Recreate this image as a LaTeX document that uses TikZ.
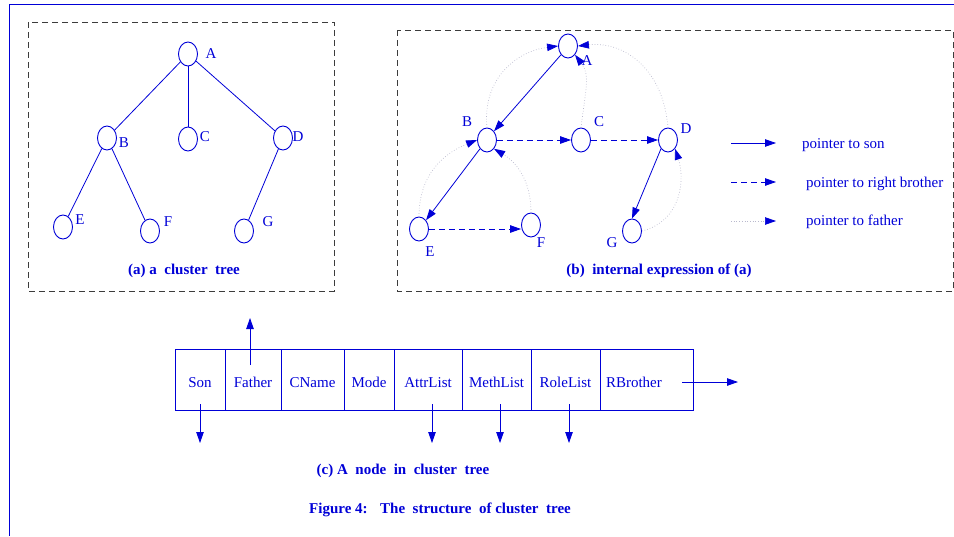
\documentclass[tikz,border=0pt]{standalone}
\usepackage{fontspec}
\setmainfont{Liberation Serif}
\usetikzlibrary{shapes.geometric, arrows.meta, positioning, calc}
\definecolor{treeblue}{RGB}{0, 0, 215}
\definecolor{boxgray}{RGB}{60, 60, 60}
\definecolor{dotgray}{RGB}{185, 185, 205}

\begin{document}
\begin{tikzpicture}[x=1pt, y=-1pt,
  every node/.style={text=treeblue, font=\fontsize{15}{18}\selectfont},
  tnode/.style={draw=treeblue, ellipse, line width=0.9pt, minimum width=19pt,
                minimum height=24pt, inner sep=0pt},
  lbl/.style={inner sep=0pt},
  capt/.style={font=\fontsize{15}{18}\selectfont\bfseries},
  tline/.style={draw=treeblue, line width=0.8pt},
  sonptr/.style={tline, -{Triangle[length=11pt, width=7.5pt]}},
  broptr/.style={sonptr, dash pattern=on 6pt off 4pt},
  fatptr/.style={draw=dotgray, line width=0.7pt, dotted,
                 -{Triangle[length=11pt, width=7.5pt, color=treeblue]}},
  dbox/.style={draw=boxgray, line width=0.8pt, dash pattern=on 6pt off 4pt},
  fieldbox/.style={draw=treeblue, line width=0.9pt, minimum height=61pt,
                   text height=19pt, text depth=3pt, inner sep=0pt, outer sep=0pt}
]
\useasboundingbox (0,0) rectangle (954,536);

% outer frame and the two dashed boxes
\draw[treeblue, line width=1pt] (954,4) -- (9,4) -- (9,536);
\draw[dbox] (28,22) rectangle (334,291);
\draw[dbox] (397,30) rectangle (953,291);

% (a) the cluster tree
\node[tnode] (aA) at (188,54) {};
\node[tnode] (aB) at (107,138) {};
\node[tnode] (aC) at (188,139) {};
\node[tnode] (aD) at (283,138) {};
\node[tnode] (aE) at (63,227) {};
\node[tnode] (aF) at (150,231) {};
\node[tnode] (aG) at (244,231) {};
\node[lbl] at (211,54) {A};
\node[lbl] at (124,143) {B};
\node[lbl] at (205,137) {C};
\node[lbl] at (298,137) {D};
\node[lbl] at (80,220) {E};
\node[lbl] at (168,222) {F};
\node[lbl] at (268,222) {G};
\draw[tline] (aA) -- (aB);
\draw[tline] (aA) -- (aC);
\draw[tline] (aA) -- (aD);
\draw[tline] (aB) -- (aE);
\draw[tline] (aB) -- (aF);
\draw[tline] (aD) -- (aG);
\node[capt] (capa) at (184,271) {(a) a~ cluster~ tree};

% (b) internal expression
\node[tnode] (bA) at (568,46) {};
\node[tnode] (bB) at (487,140) {};
\node[tnode] (bC) at (581,140) {};
\node[tnode] (bD) at (668,140) {};
\node[tnode] (bE) at (419,229) {};
\node[tnode] (bF) at (531,225) {};
\node[tnode] (bG) at (632,231) {};
\node[lbl] at (587,61) {A};
\node[lbl] at (467,122) {B};
\node[lbl] at (599,122) {C};
\node[lbl] at (686,129) {D};
\node[lbl] at (430,252) {E};
\node[lbl] at (541,243) {F};
\node[lbl] at (612,243) {G};
\draw[sonptr] (bA.south west) -- (bB.north east);
\draw[sonptr] (bB.south west) -- (bE.north east);
\draw[sonptr] (bD.south west) -- (bG.north);
\draw[broptr] (bB.east) -- (bC.west);
\draw[broptr] (bC.east) -- (bD.west);
\draw[broptr] (bE.east) -- (bE.east -| bF.west);
\draw[fatptr] (bB.north) .. controls +(-5,-50) and +(-40,5) .. (bA.west);
\draw[fatptr] (bC.north) .. controls +(5,-40) and +(15,20) .. (bA.south east);
\draw[fatptr] (bD.north) .. controls +(-5,-60) and +(45,-5) .. (bA.east);
\draw[fatptr] (bE.north) .. controls +(0,-45) and +(-30,12) .. (bB.west);
\draw[fatptr] (bF.north) .. controls +(0,-35) and +(20,12) .. (bB.south east);
\draw[fatptr] (bG.east) .. controls +(40,-10) and +(10,30) .. (bD.south east);
\node[capt] (capb) at (659,271) {(b)~ internal expression of (a)};

% legend
\coordinate (lson1) at (731,143);  \coordinate (lson2) at (776,143);
\coordinate (lbro1) at (731,182);  \coordinate (lbro2) at (776,182);
\coordinate (lfat1) at (731,221);  \coordinate (lfat2) at (776,221);
\draw[sonptr] (lson1) -- (lson2);
\draw[broptr] (lbro1) -- (lbro2);
\draw[fatptr] (lfat1) -- (lfat2);
\node[lbl, anchor=west] (lsontxt) at (802,145) {pointer to son};
\node[lbl, anchor=west] (lbrotxt) at (806,184) {pointer to right brother};
\node[lbl, anchor=west] (lfattxt) at (806,222) {pointer to father};

% (c) one node of the tree
\node[fieldbox, minimum width=50pt] (son) at (200,379.5) {Son};
\node[fieldbox, minimum width=56pt, right=0pt of son] (father) {Father};
\node[fieldbox, minimum width=63pt, right=0pt of father] (cname) {CName};
\node[fieldbox, minimum width=50pt, right=0pt of cname] (mode) {Mode};
\node[fieldbox, minimum width=68pt, right=0pt of mode] (attr) {AttrList};
\node[fieldbox, minimum width=69pt, right=0pt of attr] (meth) {MethList};
\node[fieldbox, minimum width=69pt, right=0pt of meth] (role) {RoleList};
\node[fieldbox, minimum width=93pt, text width=81pt, align=left, inner xsep=6pt,
      right=0pt of role] (rbro) {RBrother};
\coordinate (fatherout) at (250,318);
\coordinate (sonout) at (200,443);
\coordinate (attrout) at (432,443);
\coordinate (methout) at (500,443);
\coordinate (roleout) at (569,443);
\coordinate (rbroout) at (738,382);
\draw[sonptr] ([xshift=-3pt, yshift=-16pt]father.north) -- (fatherout);
\draw[sonptr] ([yshift=6pt]son.south) -- (sonout);
\draw[sonptr] ([xshift=4pt, yshift=6pt]attr.south) -- (attrout);
\draw[sonptr] ([xshift=3.5pt, yshift=6pt]meth.south) -- (methout);
\draw[sonptr] ([xshift=3.5pt, yshift=6pt]role.south) -- (roleout);
\draw[sonptr] ([xshift=-11pt, yshift=-2.5pt]rbro.east) -- (rbroout);
\node[capt] (capc) at (403,471) {(c) A~ node~ in~ cluster~ tree};
\node[capt] (figcap) at (440,510) {Figure 4:~~ The~ structure~ of cluster~ tree};
\end{tikzpicture}
\end{document}
